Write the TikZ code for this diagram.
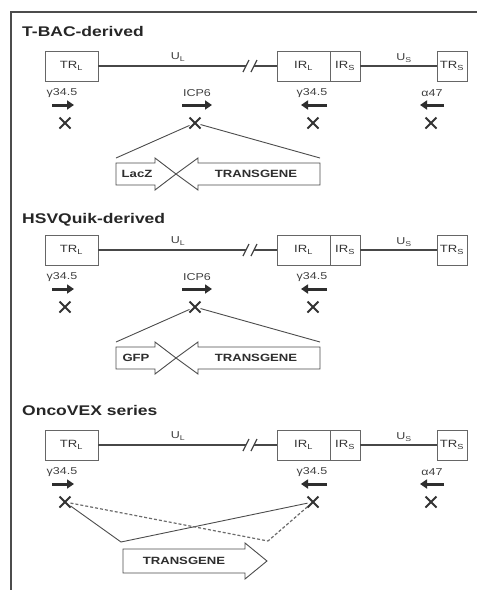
\documentclass[tikz,border=0pt]{standalone}
\usepackage{fontspec}
\setmainfont[FakeStretch=1.25]{Liberation Sans}
\usetikzlibrary{arrows.meta,positioning,shapes.misc}
\tikzset{
  seg/.style={draw=black!60, line width=0.9pt, minimum height=30pt, inner sep=0pt, outer sep=0pt, font=\fontsize{10.5}{12}\selectfont, text=black!80},
  backbone/.style={line width=1.3pt, draw=black!72},
  genelabel/.style={inner sep=0pt, font=\fontsize{10}{12}\selectfont, text=black!75},
  genearrow/.style={-{Triangle[length=7pt,width=9pt]}, line width=3pt, draw=black!82},
  knockout/.style={cross out, draw=black!80, line width=1.8pt, minimum size=11pt, inner sep=0pt, outer sep=0pt},
  cassette/.style={draw=black!70, line width=0.9pt, fill=white, line join=miter},
  cassettetext/.style={inner sep=0pt, font=\bfseries\fontsize{10.5}{12}\selectfont, text=black!82},
  paneltitle/.style={anchor=west, inner sep=0pt, font=\bfseries\fontsize{14}{16}\selectfont, text=black!85},
  insertline/.style={line width=0.9pt, draw=black!70},
  dashline/.style={line width=1.2pt, draw=black!58, dash pattern=on 3pt off 2pt}
}
\begin{document}
\begin{tikzpicture}[x=1pt,y=-1pt]
\useasboundingbox (0,0) rectangle (477,590);
\draw[black!70, line width=1.2pt] (477,12) -- (11,12) -- (11,590);

% T-BAC-derived
\node[paneltitle] (ta) at (22,31) {T-BAC-derived};
\node[seg,minimum width=53pt] (trla) at (71.5,66) {TR\textsubscript{L}};
\node[seg,minimum width=53pt] (irla) at (303.5,66) {IR\textsubscript{L}};
\node[seg,minimum width=30pt,right=0pt of irla] (irsa) {IR\textsubscript{S}};
\node[seg,minimum width=30pt] (trsa) at (452,66) {TR\textsubscript{S}};
\coordinate (bkla) at (246,66);
\coordinate (bkra) at (254,66);
\foreach \u/\v in {trla/bkla,bkra/irla,irsa/trsa}{\draw[backbone] (\u) -- (\v);}
\draw[backbone] (bkla) ++(-3,6) -- ++(6,-12) (bkra) ++(-3,6) -- ++(6,-12);
\node[genelabel] (ula) at (178,57) {U\textsubscript{L}};
\node[genelabel] (usa) at (404,58) {U\textsubscript{S}};
\node[genelabel] (g1a) at (62,93) {γ34.5};
\node[genelabel] (g2a) at (197,93) {ICP6};
\node[genelabel] (g3a) at (312,93) {γ34.5};
\node[genelabel] (g4a) at (432,93) {α47};
\draw[genearrow] (52,105) -- (74,105);
\draw[genearrow] (182,105) -- (212,105);
\draw[genearrow] (327,105) -- (301,105);
\draw[genearrow] (444,105) -- (420,105);
\node[knockout] (k1a) at (65,123) {};
\node[knockout] (k2a) at (195,123) {};
\node[knockout] (k3a) at (313,123) {};
\node[knockout] (k4a) at (431,123) {};
\draw[cassette] (116,163) -- (155,163) -- (155,158) -- (176,174) -- (155,190) -- (155,185) -- (116,185) -- cycle;
\draw[cassette] (320,163) -- (198,163) -- (198,158) -- (176,174) -- (198,190) -- (198,185) -- (320,185) -- cycle;
\node[cassettetext] (lacz) at (137,174) {LacZ};
\node[cassettetext] (tga) at (256,174) {TRANSGENE};
\coordinate (cla) at (116,158);
\coordinate (cra) at (320,158);
\draw[insertline] (k2a) -- (cla);
\draw[insertline] (k2a) -- (cra);

% HSVQuik-derived
\node[paneltitle] (tb) at (22,220) {HSVQuik-derived};
\begin{scope}[yshift=-184pt]
\node[seg,minimum width=53pt] (trlb) at (71.5,66) {TR\textsubscript{L}};
\node[seg,minimum width=53pt] (irlb) at (303.5,66) {IR\textsubscript{L}};
\node[seg,minimum width=30pt,right=0pt of irlb] (irsb) {IR\textsubscript{S}};
\node[seg,minimum width=30pt] (trsb) at (452,66) {TR\textsubscript{S}};
\coordinate (bklb) at (246,66);
\coordinate (bkrb) at (254,66);
\foreach \u/\v in {trlb/bklb,bkrb/irlb,irsb/trsb}{\draw[backbone] (\u) -- (\v);}
\draw[backbone] (bklb) ++(-3,6) -- ++(6,-12) (bkrb) ++(-3,6) -- ++(6,-12);
\node[genelabel] (ulb) at (178,57) {U\textsubscript{L}};
\node[genelabel] (usb) at (404,58) {U\textsubscript{S}};
\node[genelabel] (g1b) at (62,93) {γ34.5};
\node[genelabel] (g2b) at (197,93) {ICP6};
\node[genelabel] (g3b) at (312,93) {γ34.5};
\draw[genearrow] (52,105) -- (74,105);
\draw[genearrow] (182,105) -- (212,105);
\draw[genearrow] (327,105) -- (301,105);
\node[knockout] (k1b) at (65,123) {};
\node[knockout] (k2b) at (195,123) {};
\node[knockout] (k3b) at (313,123) {};
\draw[cassette] (116,163) -- (155,163) -- (155,158) -- (176,174) -- (155,190) -- (155,185) -- (116,185) -- cycle;
\draw[cassette] (320,163) -- (198,163) -- (198,158) -- (176,174) -- (198,190) -- (198,185) -- (320,185) -- cycle;
\node[cassettetext] (gfp) at (136,174) {GFP};
\node[cassettetext] (tgb) at (256,174) {TRANSGENE};
\coordinate (clb) at (116,158);
\coordinate (crb) at (320,158);
\draw[insertline] (k2b) -- (clb);
\draw[insertline] (k2b) -- (crb);
\end{scope}

% OncoVEX series
\node[paneltitle] (tc) at (22,410) {OncoVEX series};
\begin{scope}[yshift=-379pt]
\node[seg,minimum width=53pt] (trlc) at (71.5,66) {TR\textsubscript{L}};
\node[seg,minimum width=53pt] (irlc) at (303.5,66) {IR\textsubscript{L}};
\node[seg,minimum width=30pt,right=0pt of irlc] (irsc) {IR\textsubscript{S}};
\node[seg,minimum width=30pt] (trsc) at (452,66) {TR\textsubscript{S}};
\coordinate (bklc) at (246,66);
\coordinate (bkrc) at (254,66);
\foreach \u/\v in {trlc/bklc,bkrc/irlc,irsc/trsc}{\draw[backbone] (\u) -- (\v);}
\draw[backbone] (bklc) ++(-3,6) -- ++(6,-12) (bkrc) ++(-3,6) -- ++(6,-12);
\node[genelabel] (ulc) at (178,57) {U\textsubscript{L}};
\node[genelabel] (usc) at (404,58) {U\textsubscript{S}};
\node[genelabel] (g1c) at (62,93) {γ34.5};
\node[genelabel] (g3c) at (312,93) {γ34.5};
\node[genelabel] (g4c) at (432,93) {α47};
\draw[genearrow] (52,105) -- (74,105);
\draw[genearrow] (327,105) -- (301,105);
\draw[genearrow] (444,105) -- (420,105);
\node[knockout] (k1c) at (65,123) {};
\node[knockout] (k3c) at (313,123) {};
\node[knockout] (k4c) at (431,123) {};
\end{scope}
\draw[cassette] (123,549) -- (245,549) -- (245,543) -- (267,561) -- (245,579) -- (245,573) -- (123,573) -- cycle;
\node[cassettetext] (tgc) at (184,561) {TRANSGENE};
\coordinate (sjc) at (121,542);
\coordinate (djc) at (268,541);
\draw[insertline] (k1c) -- (sjc);
\draw[insertline] (k3c) -- (sjc);
\draw[dashline] (k1c) -- (djc);
\draw[dashline] (k3c) -- (djc);
\end{tikzpicture}
\end{document}
